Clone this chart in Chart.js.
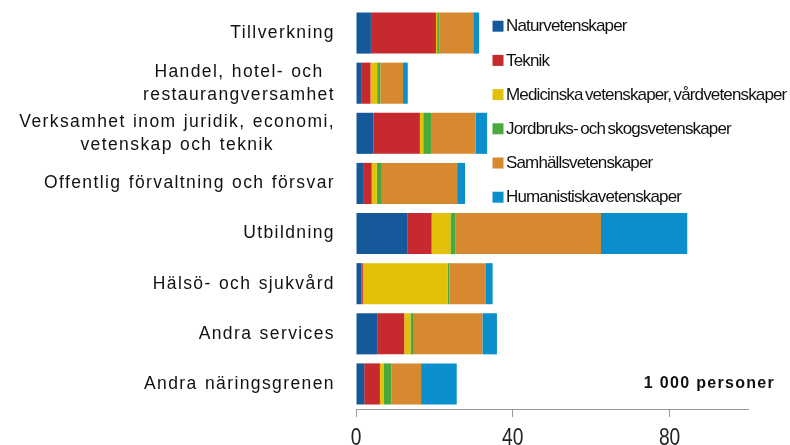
<!DOCTYPE html>
<html>
<head>
<meta charset="utf-8">
<script src="https://cdn.jsdelivr.net/npm/chart.js@4"></script>
<style>
  html, body { margin: 0; padding: 0; background: #fff; }
  canvas { display: block; }
</style>
</head>
<body>
<canvas id="chart" width="790" height="445"></canvas>
<script>
// --- Data (1 000 personer) ---
const categories = [
    'Tillverkning',
    ['Handel, hotel- och', 'restaurangversamhet'],
    ['Verksamhet inom juridik, economi,', 'vetenskap och teknik'],
    'Offentlig förvaltning och försvar',
    'Utbildning',
    'Hälsö- och sjukvård',
    'Andra services',
    'Andra näringsgrenen'
];
const seriesNames = [
    'Naturvetenskaper',
    'Teknik',
    'Medicinska vetenskaper, vårdvetenskaper',
    'Jordbruks- och skogsvetenskaper',
    'Samhällsvetenskaper',
    'Humanistiskavetenskaper'
];
const naturvet = [3.8, 1.3, 4.5, 2.0, 13.2, 1.4, 5.4, 2.1];
const teknik = [16.6, 2.4, 11.8, 2.0, 6.1, 0.35, 6.9, 4.0];
const medicin = [0.3, 1.7, 0.85, 1.3, 4.8, 21.7, 1.6, 0.9];
const jordbruk = [0.6, 0.8, 2.0, 1.3, 1.3, 0.4, 0.85, 2.0];
const samhall = [8.6, 5.8, 11.4, 19.2, 37.1, 9.3, 17.5, 7.6];
const humanist = [1.5, 1.2, 2.9, 2.0, 22.0, 1.7, 3.7, 9.1];
const xTicks = [0, 40, 80];
const unitLabel = '1 000 personer';

const colors = ['#15599b', '#c62a2f', '#e3c10b', '#4aa93c', '#d6892e', '#0a8fcc'];
const values = [naturvet, teknik, medicin, jordbruk, samhall, humanist];

const sansFont = '"Liberation Sans", Arial, sans-serif';

// category labels: right-aligned block, lines centered inside it
const categoryLabels = {
    id: 'categoryLabels',
    afterDraw(chart) {
        const ctx = chart.ctx;
        const yScale = chart.scales.y;
        ctx.save();
        ctx.font = '17.5px ' + sansFont;
        ctx.letterSpacing = '1.4px';
        ctx.wordSpacing = '1px';
        ctx.fillStyle = '#111';
        ctx.textAlign = 'center';
        ctx.textBaseline = 'middle';
        categories.forEach((cat, i) => {
            const lines = Array.isArray(cat) ? cat : [cat];
            const w = Math.max(...lines.map(l => ctx.measureText(l).width));
            const cx = chart.chartArea.left - 21 - w / 2;
            const yc = yScale.getPixelForValue(i);
            lines.forEach((line, j) => {
                ctx.fillText(line, cx, yc + (j - (lines.length - 1) / 2) * 23);
            });
        });
        ctx.restore();
    }
};

// x tick labels in a narrow face (horizontally squeezed)
const narrowTicks = {
    id: 'narrowTicks',
    afterDraw(chart) {
        const ctx = chart.ctx;
        const xScale = chart.scales.x;
        ctx.save();
        ctx.font = '24px ' + sansFont;
        ctx.fillStyle = '#222';
        ctx.textAlign = 'center';
        ctx.textBaseline = 'alphabetic';
        xScale.ticks.forEach(t => {
            const px = xScale.getPixelForValue(t.value);
            ctx.save();
            ctx.translate(px, 444.5);
            ctx.scale(0.8, 1);
            ctx.fillText(String(t.value), 0, 0);
            ctx.restore();
        });
        ctx.restore();
    }
};

// legend drawn inside the plot, top right
const insideLegend = {
    id: 'insideLegend',
    afterDraw(chart) {
        const ctx = chart.ctx;
        ctx.save();
        ctx.font = '17px ' + sansFont;
        ctx.letterSpacing = '-0.85px';
        ctx.wordSpacing = '-1.5px';
        ctx.textBaseline = 'middle';
        ctx.textAlign = 'left';
        chart.data.datasets.forEach((ds, i) => {
            const cy = 26.2 + i * 34.2;
            ctx.fillStyle = ds.backgroundColor;
            ctx.fillRect(492.5, cy - 5.5, 11, 11);
            ctx.fillStyle = '#111';
            ctx.fillText(ds.label, 506, cy + 0.5);
        });

        ctx.font = 'bold 16px ' + sansFont;
        ctx.letterSpacing = '1.3px';
        ctx.wordSpacing = '0px';
        ctx.textAlign = 'right';
        ctx.fillText(unitLabel, 775, 384);
        ctx.restore();
    }
};

new Chart(document.getElementById('chart'), {
    type: 'bar',
    data: {
        labels: categories,
        datasets: seriesNames.map((name, i) => ({
            label: name,
            data: values[i],
            backgroundColor: colors[i],
            borderWidth: 0,
            categoryPercentage: 1,
            barPercentage: 0.82
        }))
    },
    options: {
        indexAxis: 'y',
        responsive: false,
        animation: false,
        devicePixelRatio: 1,
        layout: { padding: { top: 8, right: 42, left: 0, bottom: 0 } },
        plugins: {
            legend: { display: false },
            tooltip: { enabled: false }
        },
        scales: {
            x: {
                stacked: true,
                min: 0,
                max: 100,
                afterBuildTicks: s => { s.ticks = xTicks.map(v => ({ value: v })); },
                afterFit: s => { s.height = 36; },
                border: { display: true, color: '#9a9a9a', width: 1 },
                grid: { drawOnChartArea: false, drawTicks: true, tickLength: 8, color: '#9a9a9a' },
                ticks: { color: 'rgba(0,0,0,0)', padding: 1, font: { size: 12 } }
            },
            y: {
                stacked: true,
                afterFit: s => { s.width = 356; },
                border: { display: false },
                grid: { display: false },
                ticks: { display: false }
            }
        }
    },
    plugins: [categoryLabels, narrowTicks, insideLegend]
});
</script>
</body>
</html>
